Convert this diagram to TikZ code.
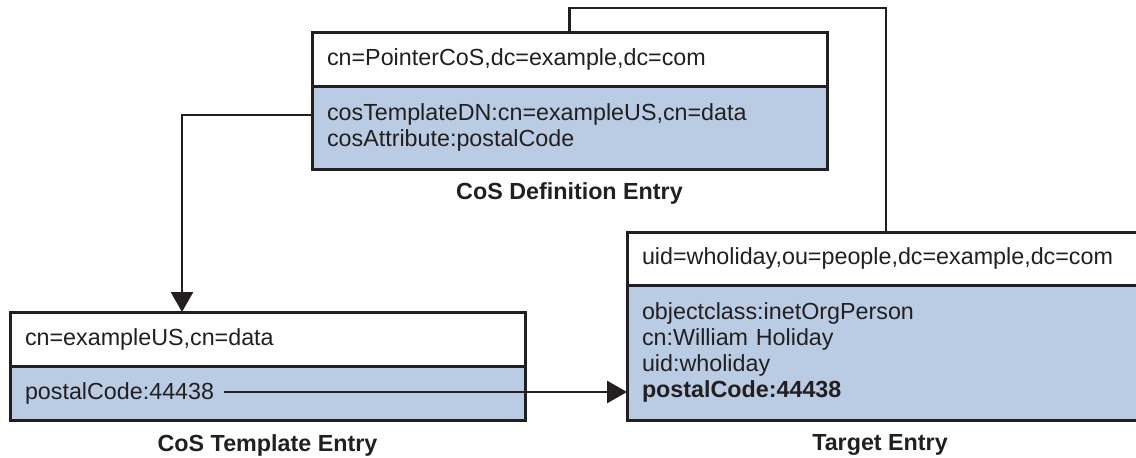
\documentclass[tikz,border=0pt]{standalone}
\usepackage{fontspec}
\setmainfont{Liberation Sans}
\usetikzlibrary{arrows.meta}
\definecolor{fillblue}{RGB}{185,204,228}
\definecolor{ink}{RGB}{35,31,32}
\begin{document}
\begin{tikzpicture}[x=1pt,y=-1pt,
  every node/.style={font=\fontsize{23.3}{26}\selectfont, text=ink},
  sect/.style={draw=ink, line width=3pt, anchor=north west, inner xsep=15pt, inner ysep=0pt, align=left, outer sep=0pt},
  hdr/.style={sect, fill=white},
  body/.style={sect, fill=fillblue},
  captxt/.style={font=\fontsize{23.3}{26}\selectfont\bfseries},
  conn/.style={draw=ink, line width=2.8pt},
  arr/.style={conn, -{Triangle[width=22pt,length=20pt]}}
]
\useasboundingbox (0,0) rectangle (1136,458);
% CoS Definition Entry
\node[hdr, minimum width=515pt, minimum height=54pt, text width=485pt] (th) at (312,32) {cn=PointerCoS,dc=example,dc=com};
\node[body, minimum width=515pt, minimum height=83pt, text width=485pt] (tb) at (312,86) {cosTemplateDN:cn=exampleUS,cn=data\\cosAttribute:postalCode};
\node[captxt] (capd) at (569.5,193) {CoS Definition Entry};
% CoS Template Entry
\node[hdr, minimum width=515pt, minimum height=54pt, text width=485pt] (lh) at (10,312) {cn=exampleUS,cn=data};
\node[body, minimum width=515pt, minimum height=54pt, text width=485pt] (lb) at (10,366) {postalCode:44438};
\node[captxt] (capt) at (267.5,445) {CoS Template Entry};
% Target Entry
\node[hdr, minimum width=518pt, minimum height=53pt, text width=488pt] (rh) at (627,232) {uid=wholiday,ou=people,dc=example,dc=com};
\node[body, minimum width=518pt, minimum height=135pt, text width=488pt] (rb) at (627,285) {objectclass:inetOrgPerson\\cn:William Holiday\\uid:wholiday\\\textbf{postalCode:44438}};
\node[captxt] (capg) at (880,445) {Target Entry};
% connectors
\coordinate (pcstart) at ([xshift=214pt,yshift=1pt]lb.west);
\draw[arr] ([yshift=12.5pt]tb.west) -| ([xshift=-85.5pt]lh.north);
\draw[arr] (pcstart) -- (pcstart -| rb.west);
\draw[conn] (th.north) -- ++(0,-24) -| (rh.north);
\end{tikzpicture}
\end{document}
